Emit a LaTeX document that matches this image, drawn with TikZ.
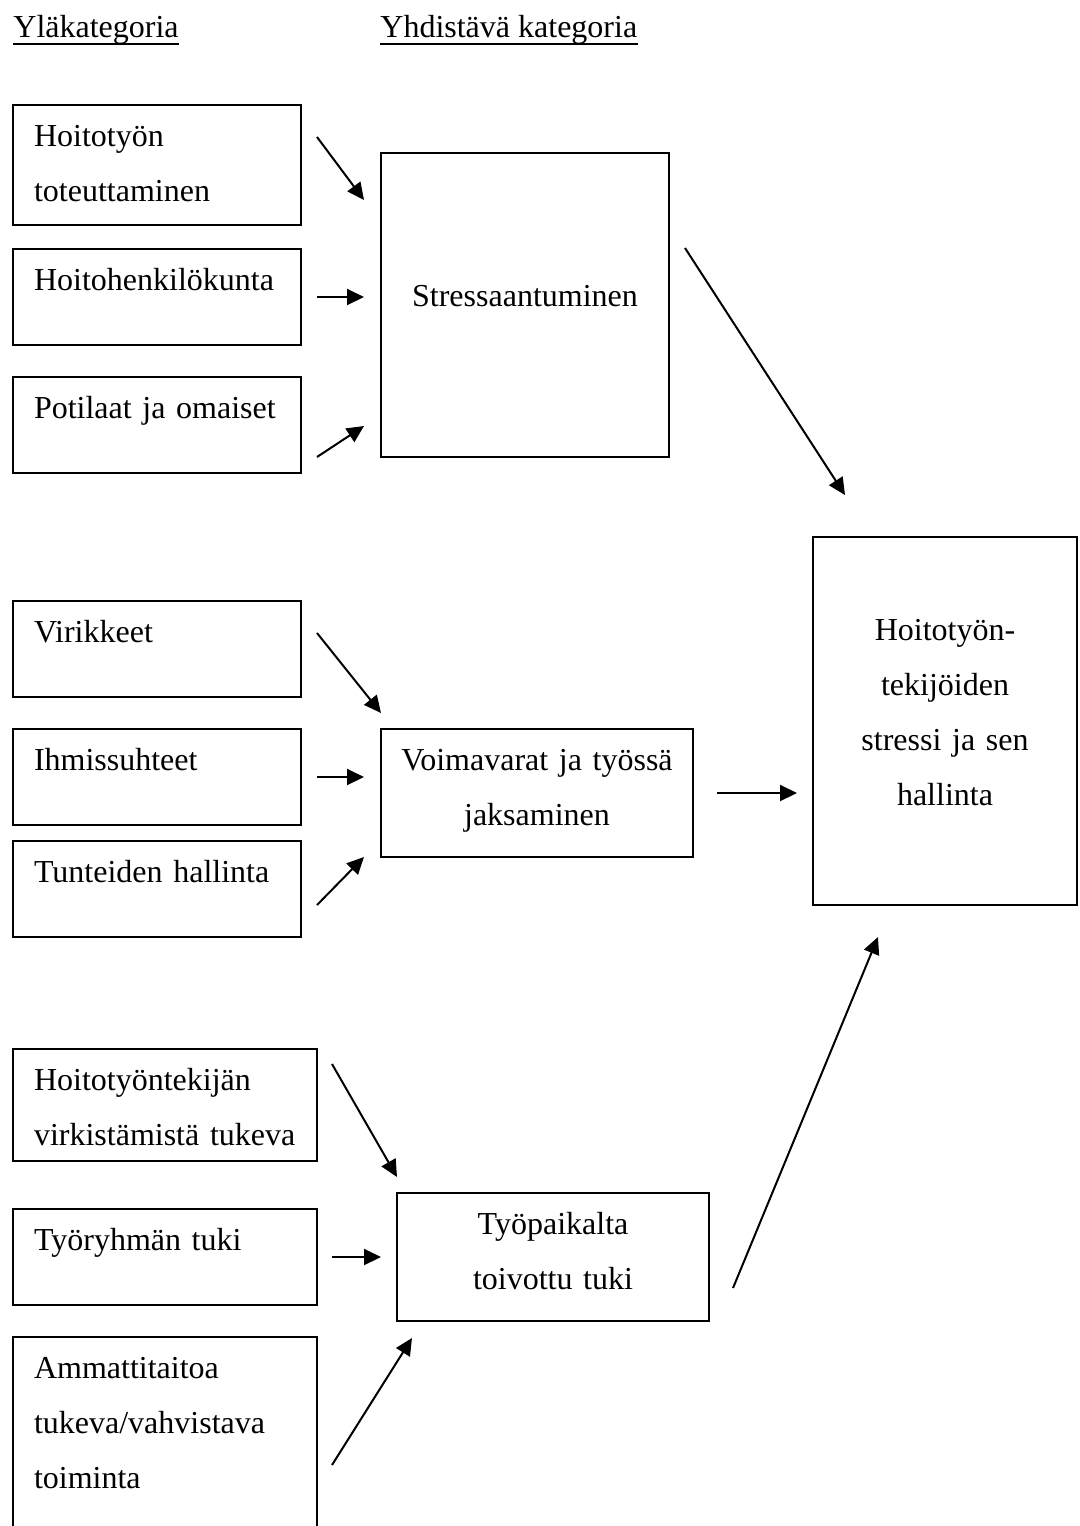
\documentclass[tikz,border=0pt]{standalone}
\usepackage{fontspec}
\setmainfont{Liberation Serif}
\usetikzlibrary{calc,arrows.meta}

\begin{document}
\begin{tikzpicture}[x=0.5pt, y=-0.5pt,
  box/.style={draw, line width=1pt, anchor=north west, outer sep=0pt, inner sep=0pt,
    font=\fontsize{16}{27.5}\selectfont, text height=20.5pt},
  ylabox/.style={box, align=left, inner xsep=10.5pt, text width=123pt},
  widebox/.style={ylabox, text width=131pt},
  midbox/.style={box, align=center, text width=#1},
  head/.style={anchor=base west, inner sep=0pt, font=\fontsize{16}{27.5}\selectfont},
  arr/.style={line width=1pt, -{Triangle[length=8.5pt, width=8pt]}}]
\useasboundingbox (0,0) rectangle (1080,1526);
\clip (0,0) rectangle (1080,1526);

\node [head] (yla) at (13,37) {Yläkategoria};
\node [head] (yhd) at (380,37) {Yhdistävä kategoria};
\draw [line width=1pt] ([yshift=-3.5pt]yla.base west) -- ([yshift=-3.5pt]yla.base east);
\draw [line width=1pt] ([yshift=-3.5pt]yhd.base west) -- ([yshift=-3.5pt]yhd.base east);

\node [ylabox, text depth=39.5pt] (toteutus) at (13,105) {Hoitotyön\\toteuttaminen};
\node [ylabox, text depth=27.5pt] (henkilo) at (13,249) {Hoitohenkilökunta};
\node [ylabox, text depth=27.5pt] (potilaat) at (13,377) {Potilaat ja omaiset};

\node [ylabox, text depth=27.5pt] (virikkeet) at (13,601) {Virikkeet};
\node [ylabox, text depth=27.5pt] (ihmis) at (13,729) {Ihmissuhteet};
\node [ylabox, text depth=27.5pt] (tunteet) at (13,841) {Tunteiden hallinta};

\node [widebox, text depth=35.5pt] (virkistys) at (13,1049) {Hoitotyöntekijän\\virkistämistä tukeva};
\node [widebox, text depth=27.5pt] (tyoryhma) at (13,1209) {Työryhmän tuki};
\node [widebox, text depth=99.5pt] (ammatti) at (13,1337) {Ammattitaitoa\\tukeva/vahvistava\\toiminta};

\node [midbox=144pt, text height=76.5pt, text depth=75.5pt] (stress) at (381,153) {Stressaantuminen};
\node [midbox=156pt, text depth=43.5pt] (voima) at (381,729) {Voimavarat ja työssä\\jaksaminen};
\node [midbox=156pt, text depth=43.5pt] (tuki) at (397,1193) {Työpaikalta\\toivottu tuki};
\node [midbox=132pt, text height=51.5pt, text depth=132.5pt] (hallinta) at (813,537) {Hoitotyön-\\tekijöiden\\stressi ja sen\\hallinta};

\draw [arr] ($(toteutus.north east)+(16,32)$) -- ($(stress.north west)+(-17,47)$);
\draw [arr] ($(henkilo.east)+(16,0)$) -- ($(henkilo.east -| stress.west)+(-17,0)$);
\draw [arr] ($(potilaat.south east)+(16,-16)$) -- ($(stress.south west)+(-17,-31)$);

\draw [arr] ($(virikkeet.north east)+(16,32)$) -- ($(voima.north west)+(0,-16)$);
\draw [arr] ($(ihmis.east)+(16,0)$) -- ($(ihmis.east -| voima.west)+(-17,0)$);
\draw [arr] ($(tunteet.south east)+(16,-32)$) -- ($(voima.south west)+(-17,0)$);

\draw [arr] ($(virkistys.north east)+(15,15)$) -- ($(tuki.north west)+(0,-16)$);
\draw [arr] ($(tyoryhma.east)+(15,0)$) -- ($(tyoryhma.east -| tuki.west)+(-16,0)$);
\draw [arr] ($(ammatti.north east)+(15,128)$) -- ($(tuki.south west)+(15,17)$);

\draw [arr] ($(stress.north east)+(16,95)$) -- ($(hallinta.north west)+(32,-42)$);
\draw [arr] ($(voima.east)+(24,0)$) -- ($(voima.east -| hallinta.west)+(-16,0)$);
\draw [arr] ($(tuki.south east)+(24,-33)$) -- ($(hallinta.south west)+(65,32)$);
\end{tikzpicture}
\end{document}
